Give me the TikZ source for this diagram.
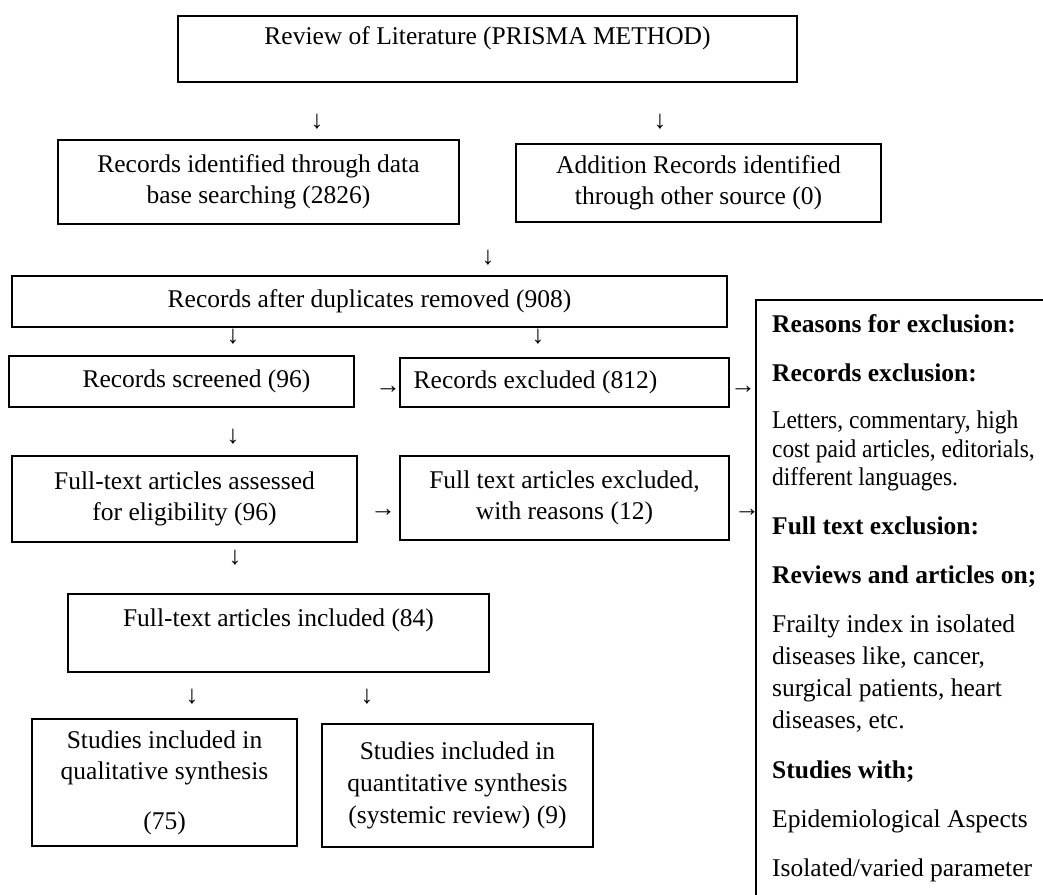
\documentclass[tikz,border=0pt]{standalone}
\usepackage{fontspec}
\usepackage{graphicx}
\setmainfont{Liberation Serif}
\newcommand{\narrow}[1]{\scalebox{0.92}[1]{#1}}
\tikzset{
  box/.style={draw, line width=1.5pt, inner sep=0pt},
  mbox/.style={box, align=center},
  arr/.style={inner sep=0pt},
}
\begin{document}
\begin{tikzpicture}[x=1pt, y=-1pt, font=\fontsize{25.5}{31}\selectfont]
  \useasboundingbox (0,0) rectangle (1043,894);
  \clip (0,0) rectangle (1043,894);
  % Kopf
  \node[mbox, minimum width=619, minimum height=66] (review) at (487.5,49) {Review of Literature (PRISMA METHOD)\\[-4pt]~};
  \node[arr] (d1) at (317,122) {↓};
  \node[arr] (d2) at (660,122) {↓};
  % Identifikation
  \node[mbox, minimum width=401, minimum height=84] (ident) at (258.5,182) {Records identified through data\\base searching (2826)};
  \node[mbox, minimum width=365, minimum height=78] (addit) at (698.5,183) {Addition Records identified\\through other source (0)};
  \node[arr] (d3) at (488,258) {↓};
  \node[box, minimum width=715, minimum height=51] (dupl) at (369.5,301.5) {Records after duplicates removed (908)};
  \node[arr] (d4) at (233,337) {↓};
  \node[arr] (d5) at (538,337) {↓};
  % Screening
  \node[box, minimum width=345, minimum height=51] (screen) at (181.5,381.5) {\hspace*{30pt}Records screened (96)};
  \node[arr] (r1) at (388,390) {→};
  \node[box, minimum width=329, minimum height=49] (excl) at (564.5,382.5) {Records excluded (812)\hspace*{58pt}};
  \node[arr] (r2) at (743,390) {→};
  \node[arr] (d6) at (233,437) {↓};
  % Eignung
  \node[mbox, minimum width=345, minimum height=86] (assess) at (184.5,499) {Full-text articles assessed\\for eligibility (96)};
  \node[arr] (r3) at (383,513) {→};
  \node[mbox, minimum width=329, minimum height=84] (ftexcl) at (564.5,498) {Full text articles excluded,\\with reasons (12)};
  \node[arr] (r4) at (747,513) {→};
  \node[arr] (d7) at (235,558) {↓};
  % Einschluss
  \node[mbox, minimum width=421, minimum height=78] (incl) at (278.5,633) {Full-text articles included (84)\\~};
  \node[arr] (d8) at (192,697) {↓};
  \node[arr] (d9) at (367,697) {↓};
  \node[mbox, minimum width=265, minimum height=127] (qual) at (164.5,782.5) {Studies included in\\qualitative synthesis\\[19pt](75)};
  \node[mbox, minimum width=271, minimum height=123] (quant) at (457.5,785.5) {Studies included in\\[1pt]quantitative synthesis\\[1pt](systemic review) (9)};
  % Ausschlussgruende
  \draw[line width=1.5pt] (756,300) rectangle (1100,960);
  \node[inner sep=0pt, anchor=north west, align=left] (reasons) at (772,314) {%
    \textbf{Reasons for exclusion:}\\[18pt]
    \textbf{Records exclusion:}\\[16pt]
    \narrow{Letters, commentary, high}\\[-2pt]
    \narrow{cost paid articles, editorials,}\\[-3pt]
    \narrow{different languages.}\\[18pt]
    \textbf{Full text exclusion:}\\[18pt]
    \textbf{Reviews and articles on;}\\[18pt]
    Frailty index in isolated\\[1pt]
    diseases like, cancer,\\[1pt]
    surgical patients, heart\\[1pt]
    diseases, etc.\\[19pt]
    \textbf{Studies with;}\\[18pt]
    Epidemiological Aspects\\[18pt]
    Isolated/varied parameter};
\end{tikzpicture}
\end{document}
